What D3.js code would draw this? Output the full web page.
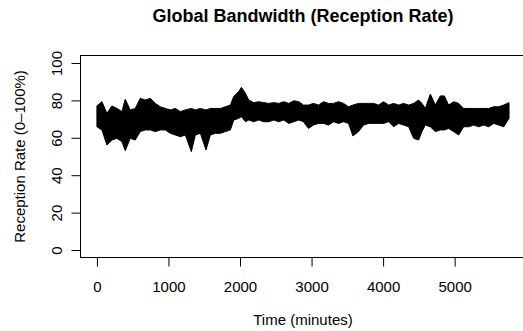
<!DOCTYPE html>
<html>
<head>
<meta charset="utf-8">
<script src="https://cdn.jsdelivr.net/npm/d3@7"></script>
<style>
  body { margin: 0; background: #fff; }
  text { font-family: "Liberation Sans", Arial, sans-serif; fill: #000; }
</style>
</head>
<body>
<div id="chart"></div>
<script>
// envelope of the reception rate (minutes, top, bottom)
const minutes = [0, 70, 140, 210, 280, 350, 396, 466, 536, 606, 676, 746, 816, 886, 956, 1026,
  1096, 1166, 1236, 1320, 1376, 1446, 1525, 1586, 1656, 1726, 1796, 1866, 1912, 1982, 2020,
  2076, 2122, 2192, 2262, 2332, 2402, 2472, 2542, 2612, 2682, 2752, 2822, 2887, 2957, 3027,
  3097, 3167, 3237, 3307, 3377, 3447, 3517, 3578, 3657, 3727, 3797, 3867, 3937, 4007, 4077,
  4147, 4217, 4287, 4357, 4427, 4497, 4543, 4590, 4660, 4730, 4800, 4856, 4916, 4986, 5056,
  5126, 5196, 5266, 5336, 5406, 5476, 5546, 5616, 5686, 5760];
const rateHigh = [77.0, 79.3, 73.1, 77.0, 75.7, 74.0, 80.6, 74.9, 75.7, 81.1, 80.2, 81.1, 78.4,
  76.6, 75.7, 74.9, 75.7, 74.0, 74.9, 75.7, 74.9, 75.7, 74.9, 75.7, 75.7, 75.7, 76.6, 77.5,
  82.1, 84.7, 87.0, 83.8, 80.2, 78.8, 79.3, 78.8, 78.4, 78.8, 78.4, 79.3, 78.4, 79.8, 79.3,
  77.5, 77.5, 78.4, 77.5, 79.3, 78.4, 78.4, 79.3, 78.4, 76.6, 77.5, 78.4, 78.4, 78.4, 78.4,
  77.5, 79.3, 77.5, 78.4, 77.5, 78.4, 77.5, 78.4, 80.2, 78.4, 75.7, 83.4, 77.5, 82.4, 82.4,
  77.5, 79.3, 78.4, 75.7, 75.7, 75.7, 75.7, 75.7, 75.7, 76.6, 76.6, 77.5, 78.8];
const rateLow = [65.9, 64.2, 56.1, 58.8, 59.7, 57.9, 53.1, 59.7, 58.8, 63.3, 64.2, 64.2, 63.3,
  64.2, 64.2, 62.4, 61.5, 60.6, 61.5, 52.6, 61.5, 62.4, 53.5, 61.5, 62.4, 62.4, 63.3, 64.2,
  69.5, 70.4, 71.3, 68.6, 69.5, 68.6, 69.5, 68.6, 68.6, 69.5, 68.6, 69.5, 67.7, 68.6, 69.5,
  68.6, 65.0, 66.8, 67.7, 67.7, 66.8, 68.6, 67.7, 68.6, 67.7, 61.0, 63.3, 66.8, 67.7, 67.7,
  67.7, 67.7, 68.6, 65.9, 67.7, 66.8, 65.9, 59.7, 58.8, 63.3, 66.8, 65.9, 63.3, 64.2, 64.2,
  65.0, 63.3, 61.5, 65.9, 65.9, 66.8, 65.9, 66.8, 65.9, 67.7, 66.8, 65.9, 70.4];

const xTicks = [0, 1000, 2000, 3000, 4000, 5000];
const yTicks = [0, 20, 40, 60, 80, 100];

const width = 523, height = 331;
const plotLeft = 80.5, plotRight = 525.5, plotTop = 55.5, plotBottom = 257.5;

const svg = d3.select("#chart")
  .append("svg")
  .attr("width", width)
  .attr("height", height);

const series = minutes.map((m, i) => ({ m: m, hi: rateHigh[i], lo: rateLow[i] }));

// R pads the range by 4% on each side
const pad = (5760 - 1) * 0.04;
const x = d3.scaleLinear().domain([1 - pad, 5760 + pad]).range([plotLeft, plotRight]);
const y = d3.scaleLinear().domain([-4, 104]).range([plotBottom, plotTop]);

const area = d3.area()
  .x(d => x(d.m))
  .y0(d => y(d.lo))
  .y1(d => y(d.hi));

svg.append("path")
  .datum(series)
  .attr("d", area)
  .attr("fill", "#000")
  .attr("stroke", "#000")
  .attr("stroke-width", 1)
  .attr("stroke-linejoin", "miter");

// plot box
svg.append("rect")
  .attr("x", plotLeft)
  .attr("y", plotTop)
  .attr("width", plotRight - plotLeft)
  .attr("height", plotBottom - plotTop)
  .attr("fill", "none")
  .attr("stroke", "#000");

// x axis
const xAxis = svg.append("g")
  .attr("transform", `translate(0,${plotBottom})`)
  .call(d3.axisBottom(x).tickValues(xTicks).tickSize(9).tickPadding(0).tickFormat(d3.format("d")));
xAxis.select(".domain").attr("d", `M${x(0)},0H${x(5000)}`);
xAxis.selectAll("text")
  .attr("y", 34)
  .attr("dy", null)
  .style("font-size", "15px");

// y axis
const yAxis = svg.append("g")
  .attr("transform", `translate(${plotLeft},0)`)
  .call(d3.axisLeft(y).tickValues(yTicks).tickSize(9).tickFormat(d3.format("d")));
yAxis.select(".domain").attr("d", `M0,${y(0)}V${y(100)}`);
yAxis.selectAll(".tick text")
  .attr("x", null)
  .attr("dy", null)
  .attr("transform", "translate(-19,0) rotate(-90)")
  .attr("text-anchor", "middle")
  .style("font-size", "15px");
svg.selectAll(".domain, .tick line").attr("stroke", "#000");

svg.append("text")
  .attr("x", (plotLeft + plotRight) / 2)
  .attr("y", 22)
  .attr("text-anchor", "middle")
  .style("font-size", "18px")
  .style("font-weight", "bold")
  .text("Global Bandwidth (Reception Rate)");

svg.append("text")
  .attr("x", (plotLeft + plotRight) / 2)
  .attr("y", 325)
  .attr("text-anchor", "middle")
  .style("font-size", "15px")
  .text("Time (minutes)");

svg.append("text")
  .attr("transform", `translate(25,${(plotTop + plotBottom) / 2}) rotate(-90)`)
  .attr("text-anchor", "middle")
  .style("font-size", "15px")
  .text("Reception Rate (0\u2013100%)");
</script>
</body>
</html>
